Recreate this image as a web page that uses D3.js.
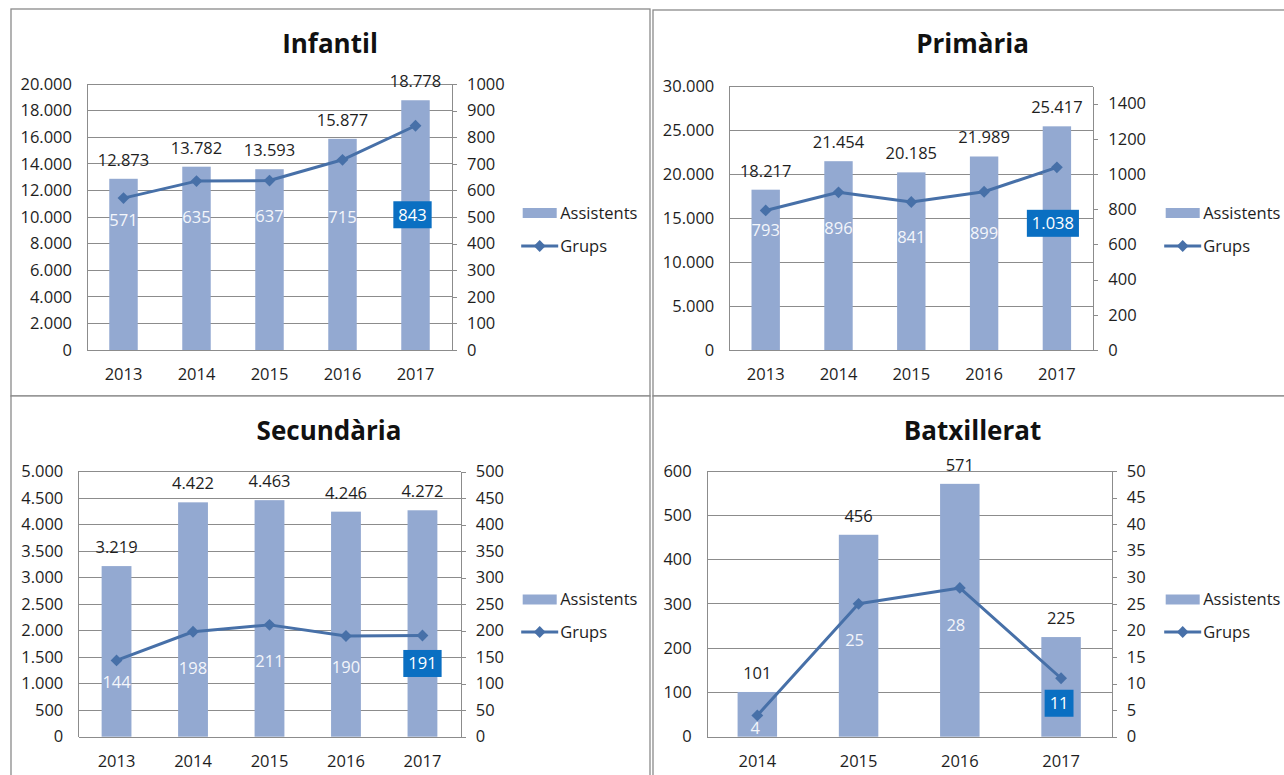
<!DOCTYPE html>
<html>
<head>
<meta charset="utf-8">
<script src="https://cdn.jsdelivr.net/npm/d3@7"></script>
<style>
  html, body { margin: 0; padding: 0; background: #fff; }
  svg { display: block; }
  text { font-family: "Open Sans", "Noto Sans", sans-serif; }
</style>
</head>
<body>
<svg id="chart" width="1284" height="775"></svg>
<script>
// ---------------- DATA ----------------
const yearsA = ["2013", "2014", "2015", "2016", "2017"];
const yearsB = ["2014", "2015", "2016", "2017"];

const infantilAssistents = [12873, 13782, 13593, 15877, 18778];
const infantilGrups      = [571, 635, 637, 715, 843];

const primariaAssistents = [18217, 21454, 20185, 21989, 25417];
const primariaGrups      = [793, 896, 841, 899, 1038];

const secundariaAssistents = [3219, 4422, 4463, 4246, 4272];
const secundariaGrups      = [144, 198, 211, 190, 191];

const batxilleratAssistents = [101, 456, 571, 225];
const batxilleratGrups      = [4, 25, 28, 11];

const infantilLeftTicks  = [0, 2000, 4000, 6000, 8000, 10000, 12000, 14000, 16000, 18000, 20000];
const infantilRightTicks = [0, 100, 200, 300, 400, 500, 600, 700, 800, 900, 1000];
const primariaLeftTicks  = [0, 5000, 10000, 15000, 20000, 25000, 30000];
const primariaRightTicks = [0, 200, 400, 600, 800, 1000, 1200, 1400];
const secundariaLeftTicks  = [0, 500, 1000, 1500, 2000, 2500, 3000, 3500, 4000, 4500, 5000];
const secundariaRightTicks = [0, 50, 100, 150, 200, 250, 300, 350, 400, 450, 500];
const batxilleratLeftTicks  = [0, 100, 200, 300, 400, 500, 600];
const batxilleratRightTicks = [0, 5, 10, 15, 20, 25, 30, 35, 40, 45, 50];

const seriesNames = ["Assistents", "Grups"];
const titles = ["Infantil", "Primària", "Secundària", "Batxillerat"];

// ---------------- STYLE / LAYOUT ----------------
const barColor = "#93a9d1";
const lineColor = "#4770a8";
const boxColor = "#0a6fc2";
const gridColor = "#8c8c8c";
const textColor = "#1e1e1e";
const fontSize = 16.5;

const loc = d3.formatLocale({ decimal: ",", thousands: ".", grouping: [3], currency: ["", "€"] });
const fmtSep = loc.format(",d");
const fmtPlain = d3.format("d");

const panels = [
  { title: titles[0], cats: yearsA, bars: infantilAssistents, line: infantilGrups,
    leftTicks: infantilLeftTicks, rightTicks: infantilRightTicks, leftMax: 20000, rightMax: 1000,
    frame: [11, 9, 639, 387], plot: [87, 452, 84, 350], titleXY: [330, 53],
    legend: { x: 522.7, ySw: 213, yLn: 246 },
    labDy: [22, 36, 36, 57, 89], labDx: [0, 0, 0, 0, -3] },
  { title: titles[1], cats: yearsA, bars: primariaAssistents, line: primariaGrups,
    leftTicks: primariaLeftTicks, rightTicks: primariaRightTicks, leftMax: 30000, rightMax: 1500,
    frame: [653, 10, 640, 386], plot: [729.3, 1093.3, 86, 350], titleXY: [972.5, 53],
    legend: { x: 1165.7, ySw: 213, yLn: 246 },
    labDy: [20, 36, 35, 41, 56], labDx: [0, 0, 0, 0, -4] },
  { title: titles[2], cats: yearsA, bars: secundariaAssistents, line: secundariaGrups,
    leftTicks: secundariaLeftTicks, rightTicks: secundariaRightTicks, leftMax: 5000, rightMax: 500,
    frame: [11, 396, 639, 400], plot: [78.3, 460.7, 471.7, 736.7], titleXY: [329, 440],
    legend: { x: 522.7, ySw: 599.5, yLn: 632 },
    labDy: [22, 36, 36, 31, 28], labDx: [0, 0, 0, 0, 0] },
  { title: titles[3], cats: yearsB, bars: batxilleratAssistents, line: batxilleratGrups,
    leftTicks: batxilleratLeftTicks, rightTicks: batxilleratRightTicks, leftMax: 600, rightMax: 50,
    frame: [653, 396, 640, 400], plot: [706.7, 1111.7, 471, 736.7], titleXY: [972.5, 440],
    legend: { x: 1165.7, ySw: 599.5, yLn: 632 },
    labDy: [13, 36, 37, 25], labDx: [-2, -4, -4, -2] }
];

const svg = d3.select("#chart");

panels.forEach(p => {
  const g = svg.append("g");
  const [fx, fy, fw, fh] = p.frame;
  g.append("rect").attr("x", fx).attr("y", fy).attr("width", fw).attr("height", fh)
    .attr("fill", "#fff").attr("stroke", "#8a8a8a").attr("stroke-width", 1.3);

  const [x0, x1, yT, yB] = p.plot;
  const x = d3.scaleBand().domain(p.cats).range([x0, x1]).paddingInner(0.61).paddingOuter(0.305);
  const yL = d3.scaleLinear().domain([0, p.leftMax]).range([yB, yT]);
  const yR = d3.scaleLinear().domain([0, p.rightMax]).range([yB, yT]);

  // title
  g.append("text").attr("x", p.titleXY[0]).attr("y", p.titleXY[1])
    .attr("text-anchor", "middle").attr("font-weight", "bold").attr("font-size", 26)
    .attr("fill", "#111").text(p.title);

  // gridlines
  g.append("g").selectAll("line").data(p.leftTicks.filter(t => t > 0)).join("line")
    .attr("x1", x0).attr("x2", x1).attr("y1", d => yL(d)).attr("y2", d => yL(d))
    .attr("stroke", gridColor).attr("stroke-width", 1).attr("shape-rendering", "crispEdges");

  // left axis
  const leftAxis = d3.axisLeft(yL).tickValues(p.leftTicks).tickFormat(fmtSep).tickSize(0).tickPadding(15);
  const la = g.append("g").attr("transform", `translate(${x0},0)`).call(leftAxis);
  la.select(".domain").attr("stroke", gridColor).attr("shape-rendering", "crispEdges");
  la.selectAll("text").attr("font-size", fontSize).attr("fill", textColor)
    .attr("font-family", "'Open Sans', sans-serif");

  // right axis
  const rightAxis = d3.axisRight(yR).tickValues(p.rightTicks).tickFormat(fmtPlain).tickSizeInner(5).tickSizeOuter(0).tickPadding(10);
  const ra = g.append("g").attr("transform", `translate(${x1},0)`).call(rightAxis);
  ra.select(".domain").attr("stroke", gridColor).attr("shape-rendering", "crispEdges");
  ra.selectAll("line").attr("stroke", gridColor).attr("shape-rendering", "crispEdges");
  ra.selectAll("text").attr("font-size", fontSize).attr("fill", textColor)
    .attr("font-family", "'Open Sans', sans-serif");

  // bars
  g.append("g").selectAll("rect").data(p.bars).join("rect")
    .attr("x", (d, i) => x(p.cats[i])).attr("width", x.bandwidth())
    .attr("y", d => yL(d)).attr("height", d => yB - yL(d))
    .attr("fill", barColor);

  // bottom axis
  const bottomAxis = d3.axisBottom(x).tickSize(0).tickPadding(0);
  const ba = g.append("g").attr("transform", `translate(0,${yB})`).call(bottomAxis);
  ba.select(".domain").attr("stroke", gridColor).attr("shape-rendering", "crispEdges");
  ba.selectAll("text").attr("font-size", fontSize).attr("fill", textColor)
    .attr("font-family", "'Open Sans', sans-serif").attr("dy", null).attr("y", 30);

  // bar value labels
  g.append("g").selectAll("text").data(p.bars).join("text")
    .attr("x", (d, i) => x(p.cats[i]) + x.bandwidth() / 2)
    .attr("y", d => yL(d) - 13)
    .attr("text-anchor", "middle").attr("font-size", fontSize).attr("fill", textColor)
    .text(d => fmtSep(d));

  // line
  const cx = (i) => x(p.cats[i]) + x.bandwidth() / 2;
  const lineGen = d3.line().x((d, i) => cx(i)).y(d => yR(d));
  g.append("path").datum(p.line).attr("d", lineGen)
    .attr("fill", "none").attr("stroke", lineColor).attr("stroke-width", 3).attr("stroke-linejoin", "round");
  const diamond = d3.symbol(d3.symbolSquare, 70);
  g.append("g").selectAll("path").data(p.line).join("path")
    .attr("d", diamond)
    .attr("transform", (d, i) => `translate(${cx(i)},${yR(d)}) rotate(45)`)
    .attr("fill", lineColor);

  // line value labels
  const n = p.line.length;
  p.line.forEach((d, i) => {
    const lx = cx(i) + p.labDx[i];
    const ly = yR(d) + p.labDy[i];
    const txt = fmtSep(d);
    if (i === n - 1) {
      const t = g.append("text").attr("x", lx).attr("y", ly).attr("dy", "0.36em")
        .attr("text-anchor", "middle").attr("font-size", fontSize).attr("fill", "#fff").text(txt);
      const bb = t.node().getBBox();
      g.insert("rect", () => t.node())
        .attr("x", lx - bb.width / 2 - 5).attr("y", ly - 13.5)
        .attr("width", bb.width + 10).attr("height", 27).attr("fill", boxColor);
    } else {
      g.append("text").attr("x", lx).attr("y", ly).attr("dy", "0.36em")
        .attr("text-anchor", "middle").attr("font-size", fontSize).attr("fill", "#f4f6fb").text(txt);
    }
  });

  // legend
  const L = p.legend;
  g.append("rect").attr("x", L.x).attr("y", L.ySw - 5).attr("width", 34).attr("height", 10).attr("fill", barColor);
  g.append("text").attr("x", L.x + 37.5).attr("y", L.ySw).attr("dy", "0.36em")
    .attr("font-size", fontSize).attr("fill", textColor).text(seriesNames[0]);
  g.append("line").attr("x1", L.x - 1.5).attr("x2", L.x + 35.5).attr("y1", L.yLn).attr("y2", L.yLn)
    .attr("stroke", lineColor).attr("stroke-width", 3);
  g.append("path").attr("d", diamond).attr("transform", `translate(${L.x + 17},${L.yLn}) rotate(45)`).attr("fill", lineColor);
  g.append("text").attr("x", L.x + 37.5).attr("y", L.yLn).attr("dy", "0.36em")
    .attr("font-size", fontSize).attr("fill", textColor).text(seriesNames[1]);
});
</script>
</body>
</html>
